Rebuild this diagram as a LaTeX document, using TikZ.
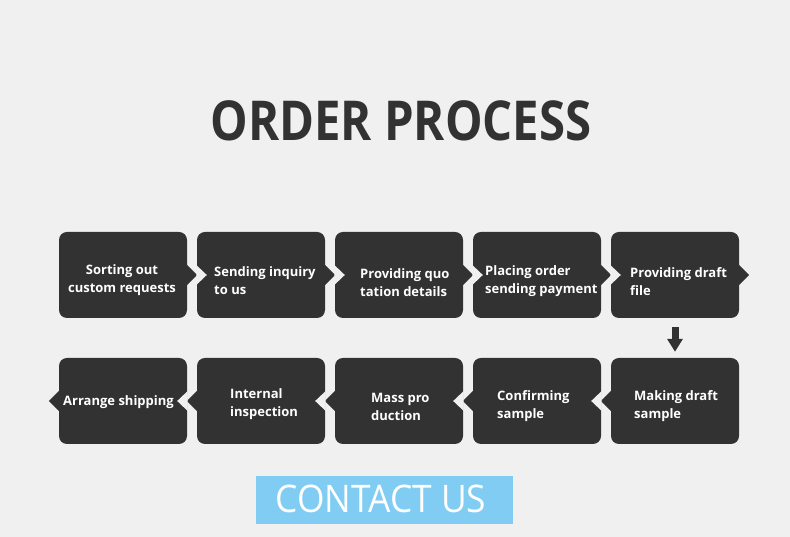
\documentclass[tikz,border=0pt]{standalone}
\usepackage{fontspec}
\setmainfont{Open Sans}
\usetikzlibrary{arrows.meta}
\definecolor{bg}{HTML}{F0F0F0}
\definecolor{boxc}{HTML}{323232}
\definecolor{blu}{HTML}{80CCF3}
\tikzset{
  stepbox/.style={fill=boxc, rounded corners=8pt, minimum width=128pt, minimum height=86pt, inner sep=0pt, draw=none},
  lbl/.style={text=white, font=\bfseries\fontsize{13}{18}\selectfont, inner sep=0pt},
  pointer/.style={fill=boxc, draw=none},
  notch/.style={fill=bg, draw=none},
}
\begin{document}
\begin{tikzpicture}[x=1pt,y=1pt]
\fill[bg] (0,0) rectangle (790,537);
\useasboundingbox (0,0) rectangle (790,537);
\node[text=boxc, font=\bfseries\fontsize{55}{60}\selectfont, inner sep=0pt] (title) at (401,416) {\scalebox{0.86}[1]{ORDER PROCESS}};
% row 1
\foreach \i/\x in {1/123,2/261,3/399,4/537,5/675}{
  \node[stepbox] (b\i) at (\x,262) {};
}
% row 2
\foreach \i/\x in {6/675,7/537,8/399,9/261,10/123}{
  \node[stepbox] (b\i) at (\x,136) {};
}
% row 1 pointers (right) and notches (left)
\foreach \i in {1,...,5}{
  \fill[pointer] (b\i.east) ++(0,10) -- ++(10,-10) -- ++(-10,-10) -- cycle;
}
\foreach \i in {2,...,5}{
  \fill[notch] (b\i.west) ++(-0.5,10) -- ++(10.5,-10) -- ++(-10.5,-10) -- cycle;
}
% row 2 pointers (left) and notches (right)
\foreach \i in {6,...,10}{
  \fill[pointer] (b\i.west) ++(0,10) -- ++(-10,-10) -- ++(10,-10) -- cycle;
}
\foreach \i in {7,...,10}{
  \fill[notch] (b\i.east) ++(0.5,10) -- ++(-10.5,-10) -- ++(10.5,-10) -- cycle;
}
% labels
\node[lbl, align=center] (t1) at (122,256.5) {Sorting out\\custom requests};
\node[lbl, align=left, anchor=west] (t2) at (214,256.5) {Sending inquiry\\to us};
\node[lbl, align=left, anchor=west] (t3) at (360,254.5) {Providing quo\\tation details};
\node[lbl, align=left, anchor=west] (t4) at (485,255.5) {Placing order\\sending payment};
\node[lbl, align=left, anchor=west] (t5) at (630,255.5) {Providing draft\\file};
\node[lbl, align=left, anchor=west] (t6) at (634,131) {Making draft\\sample};
\node[lbl, align=left, anchor=west] (t7) at (497,131) {Confirming\\sample};
\node[lbl, align=left, anchor=west] (t8) at (371,130) {Mass pro\\duction};
\node[lbl, align=left, anchor=west] (t9) at (230,132.5) {Internal\\inspection};
\node[lbl, anchor=west] (t10) at (63,135) {Arrange shipping};
% down arrow
\draw[boxc, line width=7pt, -{Triangle[length=13pt,width=15pt]}, shorten <=9pt, shorten >=6pt] (b5.south) -- (b6.north);
% contact
\node[fill=blu, minimum width=257pt, minimum height=48pt, inner sep=0pt] (contact) at (384.5,37) {};
\node[text=white, font=\fontsize{38}{40}\selectfont, inner sep=0pt] (ct) at (381,38) {\scalebox{0.93}[1]{CONTACT US}};
\end{tikzpicture}
\end{document}
